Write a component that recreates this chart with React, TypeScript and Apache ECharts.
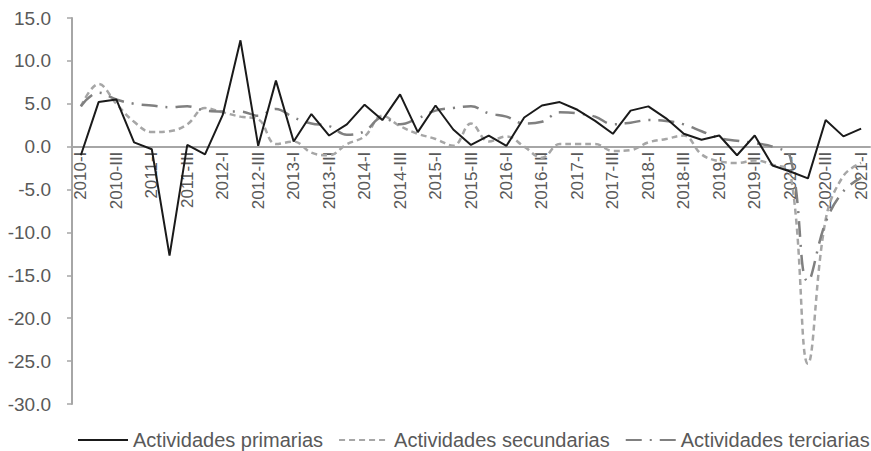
import React, { useEffect, useRef } from "react";
import * as echarts from "echarts";

const years = ["2010","2011","2012","2013","2014","2015","2016","2017","2018","2019","2020","2021"];
const quarters = ["I", "II", "III", "IIII"];
const categories: string[] = [];
years.forEach((y) => quarters.forEach((q) => categories.push(`${y}-${q}`)));
categories.splice(45);

const primarias = [
  -1.0, 5.2, 5.5, 0.5, -0.3, -12.7, 0.2, -0.9, 3.7, 12.4,
  0.1, 7.7, 0.6, 3.8, 1.3, 2.6, 4.9, 3.1, 6.1, 1.7,
  4.8, 2.0, 0.2, 1.3, 0.1, 3.4, 4.8, 5.2, 4.3, 3.0,
  1.5, 4.2, 4.7, 3.3, 1.5, 0.8, 1.3, -1.0, 1.3, -2.2,
  -2.9, -3.7, 3.1, 1.2, 2.1,
];
const secundarias = [
  4.7, 7.3, 5.0, 2.9, 1.7, 1.8, 2.6, 4.5, 4.0, 3.5,
  3.2, 0.3, 0.6, -0.7, -1.0, 0.3, 1.2, 3.6, 2.4, 1.5,
  0.9, 0.1, 2.7, 0.6, 1.2, 0.0, -1.3, 0.3, 0.3, 0.3,
  -0.5, -0.4, 0.5, 0.9, 1.3, -0.9, -1.7, -1.9, -1.6, -2.1,
  -3.0, -25.3, -8.5, -3.4, -1.9,
];
const terciarias = [
  4.7, 6.3, 5.5, 5.0, 4.8, 4.6, 4.7, 4.2, 4.1, 4.1,
  3.6, 4.4, 3.4, 2.7, 2.4, 1.4, 1.8, 3.4, 2.6, 3.3,
  4.2, 4.5, 4.7, 3.9, 3.5, 2.7, 2.9, 4.0, 3.9, 3.5,
  2.6, 2.8, 3.1, 3.0, 2.6, 1.8, 1.0, 0.7, 0.4, 0.0,
  -1.2, -15.7, -8.8, -5.2, -3.6,
];

const seriesNames = ["Actividades primarias", "Actividades secundarias", "Actividades terciarias"];
const FONT = "'Liberation Sans', Arial, sans-serif";

const Y_MIN = -30;
const Y_MAX = 15;
const GRID_TOP = 18;
const GRID_H = 386;

export default function App() {
  const ref = useRef<HTMLDivElement>(null);
  useEffect(() => {
    if (!ref.current) return;
    const chart = echarts.init(ref.current, undefined, { renderer: "svg" });
    const zeroOffset = -(GRID_H * (0 - Y_MIN)) / (Y_MAX - Y_MIN);
    chart.setOption({
      animation: false,
      backgroundColor: "#ffffff",
      textStyle: { fontFamily: FONT },
      grid: { left: 72, right: 1, top: GRID_TOP, height: GRID_H, containLabel: false },
      legend: {
        left: 77,
        bottom: 1,
        width: 794,
        orient: "horizontal",
        padding: 0,
        itemWidth: 50,
        itemHeight: 14,
        itemGap: 15,
        itemStyle: { opacity: 0, color: "rgba(0,0,0,0)", borderWidth: 0 },
        textStyle: { color: "#595959", fontSize: 20, fontFamily: FONT },
        data: seriesNames,
      },
      xAxis: {
        type: "category",
        data: categories,
        boundaryGap: true,
        position: "bottom",
        offset: zeroOffset,
        axisLine: { onZero: false, lineStyle: { color: "#a6a6a6", width: 2 } },
        axisTick: { show: false },
        axisLabel: {
          interval: 1,
          rotate: 90,
          color: "#595959",
          fontSize: 17,
          margin: 5,
          fontFamily: FONT,
          showMaxLabel: true,
          showMinLabel: true,
          hideOverlap: false,
        },
        splitLine: { show: false },
      },
      yAxis: {
        type: "value",
        min: Y_MIN,
        max: Y_MAX,
        interval: 5,
        axisLine: { show: true, lineStyle: { color: "#a6a6a6", width: 2 } },
        axisTick: { show: true, length: 5, lineStyle: { color: "#a6a6a6", width: 1.5 } },
        axisLabel: { color: "#595959", fontSize: 19, margin: 21, formatter: (v: number) => v.toFixed(1), fontFamily: FONT },
        splitLine: { show: false },
      },
      series: [
        {
          name: seriesNames[0],
          type: "line",
          data: primarias,
          symbol: "none",
          lineStyle: { color: "#1a1a1a", width: 2 },
          itemStyle: { color: "#1a1a1a" },
          z: 5,
        },
        {
          name: seriesNames[1],
          type: "line",
          data: secundarias,
          symbol: "none",
          smooth: 0.4,
          lineStyle: { color: "#a6a6a6", width: 2.5, type: [6, 4] },
          itemStyle: { color: "#a6a6a6" },
          z: 3,
        },
        {
          name: seriesNames[2],
          type: "line",
          data: terciarias,
          symbol: "none",
          smooth: 0.4,
          lineStyle: { color: "#808080", width: 2.5, type: [16, 8, 2, 8] },
          itemStyle: { color: "#808080" },
          z: 4,
        },
      ],
    });
    return () => chart.dispose();
  }, []);
  return <div ref={ref} style={{ position: "fixed", left: 0, top: 0, width: 871, height: 451 }} />;
}
